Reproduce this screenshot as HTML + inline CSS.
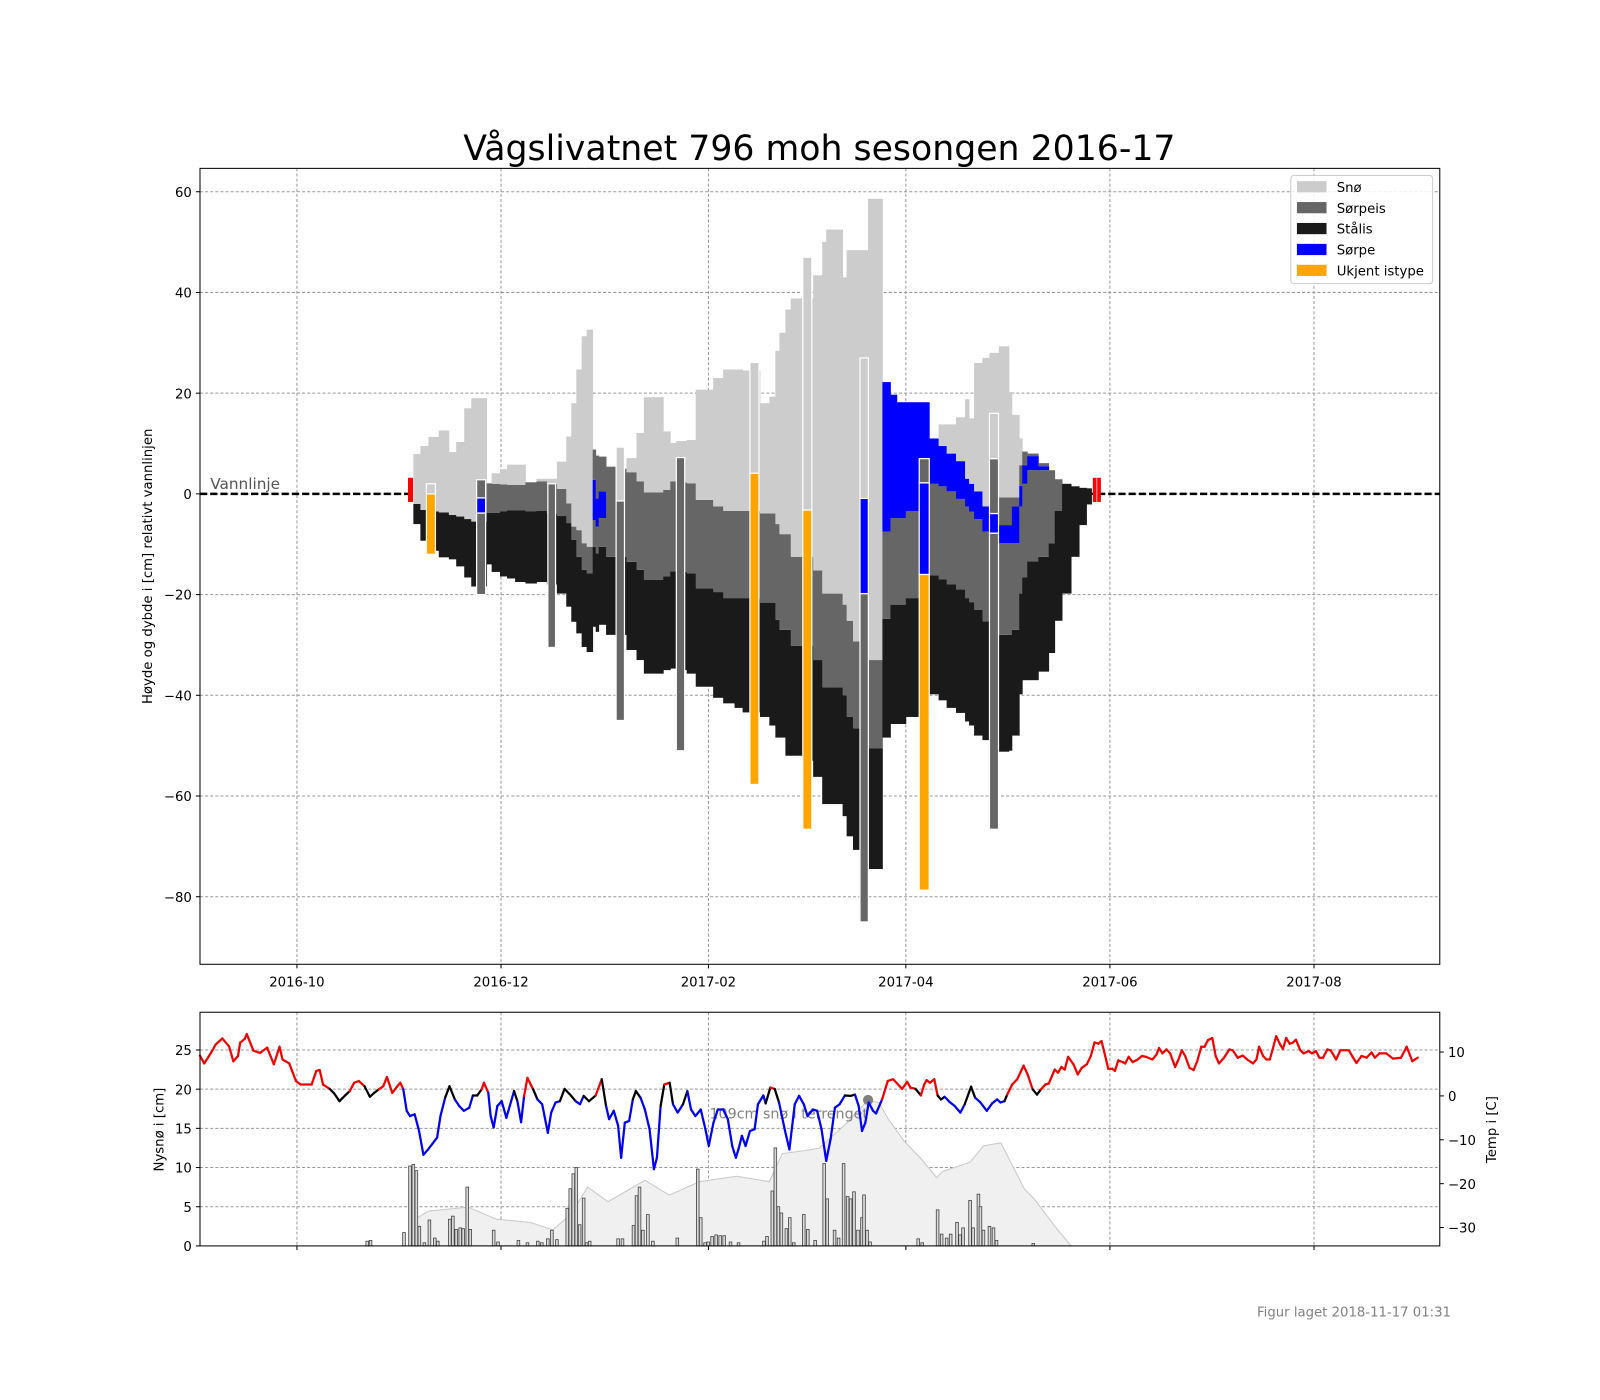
<!DOCTYPE html>
<html><head><meta charset="utf-8"><style>
html,body{margin:0;padding:0;background:#fff;}
svg{display:block;font-family:"DejaVu Sans","Liberation Sans",sans-serif;}
</style></head><body>
<svg id="fig" width="1600" height="1400" viewBox="0 0 1600 1400">
<rect x="0" y="0" width="1600" height="1400" fill="#fff"/>
<g transform="scale(1.0204)">
<text x="803" y="157" font-size="34" text-anchor="middle" fill="#000">Vågslivatnet 796 moh sesongen 2016-17</text>
<g id="topPlot"></g>
<g id="botPlot"></g>
<text x="1422" y="1290" font-size="13" text-anchor="end" fill="#808080">Figur laget 2018-11-17 01:31</text>
</g>
</svg>
<script>
// ---------- DATA ----------
// days since 2016-10-01
const xTickDays = [0, 61, 123, 182, 243, 304];
const xTickLabels = ["2016-10","2016-12","2017-02","2017-04","2017-06","2017-08"];
const yTicks = [60,40,20,0,-20,-40,-60,-80];
// ice columns: day, bottom, stålis top, sørpeis top, sørpe top, sørpeis2 top, snow top (cm)
const colDays = [34.8,36.9,39.3,42.4,45.4,47.6,50.0,52.1,56.7,58.2,60.7,62.8,65.2,68.3,71.6,74.7,77.7,80.5,82.0,83.5,85.1,86.6,88.4,89.3,90.2,92.4,95.4,98.5,101.5,103.7,109.5,111.6,113.4,116.5,119.2,124.4,127.4,130.8,133.2,138.4,141.2,143.0,144.2,146.0,147.6,151.2,154.3,157.0,158.2,163.1,164.3,166.2,168.3,170.7,175.0,177.4,179.3,182.0,186.0,189.0,191.8,194.2,197.0,199.7,200.9,202.4,204.9,207.0,209.8,212.8,213.7,215.9,216.8,218.3,221.6,224.7,226.5,228.7,231.4,233.8,236.0];
const colEnd = 237.5;
const bottomVals = [-6,-9.3,-11.3,-12.6,-13,-14.4,-16.6,-18.4,-14,-15.5,-16.4,-16.8,-17.5,-17.8,-17.5,-18,-19.8,-22.4,-25.4,-27.7,-30.4,-31.4,-26.4,-27.4,-26,-28,-28,-31,-33,-35.7,-35,-34.7,-35,-35.7,-38.3,-40.5,-41.6,-42.5,-43.4,-44.3,-46,-48.4,-48.4,-52,-52,-53,-56.2,-61.6,-61.6,-64,-68,-70.7,-70.7,-74.5,-48.4,-45.7,-45.7,-44.3,-44.3,-39.8,-41,-42.5,-43.5,-45.2,-46,-48,-48.9,-50,-51.2,-51,-48,-39.8,-37,-37,-35.3,-31.6,-25.2,-19.8,-12.5,-6.2,-2.1];
const stalisTop = [-2,-3.2,-3.5,-3.7,-4.2,-4.5,-5,-5.5,-3.8,-3.8,-3.5,-3.3,-3.3,-3.5,-3.4,-4,-4.4,-5.8,-9.1,-12.5,-15.1,-15.8,-10.5,-11.8,-10.5,-12.5,-12.5,-13.5,-15.1,-17.1,-16.4,-15.4,-15.5,-15.8,-18.8,-19.5,-20.7,-20.7,-20.7,-21.6,-21.6,-25,-27,-27,-30.2,-30.2,-33,-38.4,-38.4,-40,-44.3,-46.6,-46.6,-50.5,-24.8,-22,-22,-20.7,-20.7,-16.2,-17,-18,-19,-20.7,-21.5,-23,-25.3,-26,-28,-28,-27,-19.8,-16.6,-13.4,-12.5,-9.8,-3.4,2,1.5,1.2,1.1];
const sorpeisTop = [-2,-3.2,-3.5,-3.7,-4.2,-4.5,-5,-5.5,2.1,2,1.9,1.8,1.8,2.3,2.5,2,1,-1.9,-6.5,-7.2,-9.8,-10.5,-5.2,-6.5,-4.8,5.4,5,4.3,2.5,0.3,0.8,2.5,2.3,2.1,-1.2,-2.5,-3.4,-3.4,-3.4,-3.9,-3.9,-6,-8,-8,-12.5,-12.5,-15.2,-19.8,-19.8,-22,-25.2,-29.3,-29.3,-33,-7.5,-4.8,-4.8,-3.4,-3.4,2,1.5,0.5,-1,-2.5,-3.5,-5,-7.5,-8,-9.8,-9.8,-9.8,-2.5,2,4.7,4.7,4.7,2.9,2,1.5,1.2,1.1];
const sorpeTop = [-2,-3.2,-3.5,-3.7,-4.2,-4.5,-5,-5.5,2.1,2,1.9,1.8,1.8,2.3,2.5,2,1,-1.9,-6.5,-7.2,-9.8,-10.5,2.8,-0.9,0.5,5.4,5,4.3,2.5,0.3,0.8,2.5,2.3,2.1,-1.2,-2.5,-3.4,-3.4,-3.4,-3.9,-3.9,-6,-8,-8,-12.5,-12.5,-15.2,-19.8,-19.8,-22,-25.2,-29.3,-29.3,-33,22.2,19.7,18.2,18.2,18.2,11,9.5,8,6.5,3,2,0.5,-2.5,-3,-6.2,-6.2,-2.5,1.6,5.7,7.5,5.5,4.7,2.9,2,1.5,1.2,1.1];
const sorpeis2Top = [-2,-3.2,-3.5,-3.7,-4.2,-4.5,-5,-5.5,2.1,2,1.9,1.8,1.8,2.3,2.5,2,1,-1.9,-6.5,-7.2,-9.8,-10.5,8.8,7.6,7.4,5.4,5,4.3,2.5,0.3,0.8,2.5,2.3,2.1,-1.2,-2.5,-3.4,-3.4,-3.4,-3.9,-3.9,-6,-8,-8,-12.5,-12.5,-15.2,-19.8,-19.8,-22,-25.2,-29.3,-29.3,-33,22.2,19.7,18.2,18.2,18.2,11,9.5,8,6.5,3,2,0.5,-2.5,-3,-0.7,-0.7,-0.7,5.7,8.4,8,6.1,4.7,2.9,2,1.5,1.2,1.1];
const snowTop = [7.9,9.5,11.3,12.6,8.3,10.3,17,19,2.1,4.1,4.9,5.8,5.8,2.3,3,3,6.4,11.4,18,24.7,31.3,32.6,8.8,7.6,7.4,5.4,5,7.1,12.1,19.2,12.4,10.1,10.5,10.7,20.7,23,24.7,24.7,24.5,18,19.3,28.4,32,36.6,38.8,38.8,43.4,50,52.5,43,48.4,48.4,48.4,58.6,22.2,19.7,18.2,18.2,18.2,11,13.8,13.8,15.2,18.8,15,26,27,28,29.3,20.2,15.7,11,8.4,8,6.1,4.7,2.9,2,1.5,1.2,1.1];
// sample columns: day, width (days), layers [type, from, to]
const sampleDays = [33.2,38.7,53.7,75.0,95.4,113.4,135.4,151.2,168.3,186.0,207.0,237.9,239.2];
const sampleWidths = [1.5,2.7,2.7,2.3,2.5,2.5,2.7,2.7,2.5,3,2.7,1.1,1.1];
const sampleLayers = [
 [["red",-1.6,3.2]],
 [["orange",-12,0],["snow",0,2]],
 [["sorpeis",-20,-3.8],["sorpe",-3.8,-0.8],["sorpeis",-0.8,2.8]],
 [["sorpeis",-30.5,2]],
 [["sorpeis",-45,-1.4],["snow",-1.4,9.3]],
 [["sorpeis",-51,7.2]],
 [["orange",-57.7,4.1],["snow",4.1,26.1]],
 [["orange",-66.6,-3.2],["snow",-3.2,47]],
 [["sorpeis",-85,-19.8],["sorpe",-19.8,-0.9],["snow",-0.9,27]],
 [["orange",-78.7,-16],["sorpe",-16,2.2],["sorpeis",2.2,7]],
 [["sorpeis",-66.6,-7.8],["sorpe",-7.8,-3.9],["sorpeis",-3.9,7],["snow",7,16]],
 [["red",-1.6,3.2]],
 [["red",-1.6,3.2]]
];
// weather
const tempDays = [-29.0,-27.7,-25.7,-24.3,-22.3,-20.3,-19.0,-17.6,-17.0,-15.6,-15.0,-13.0,-11.0,-8.9,-6.9,-5.2,-4.3,-2.3,-0.3,1.1,4.4,5.8,6.8,7.8,9.8,11.1,12.7,14.4,15.8,17.1,18.5,20.2,21.8,23.1,24.5,25.8,26.9,28.5,29.8,30.9,31.8,32.8,33.8,35.2,36.5,37.8,39.2,41.9,42.9,44.3,45.6,47.2,48.5,49.9,51.5,52.6,53.9,55.2,55.9,57.2,57.9,58.8,59.9,61.2,62.6,63.2,64.9,65.9,67.0,67.9,68.9,70.6,71.9,73.3,75.0,76.0,77.3,78.6,80.0,82.0,83.3,84.6,85.7,87.3,89.3,91.1,92.4,93.3,94.7,96.0,96.9,98.0,99.3,100.4,101.3,102.7,104.0,105.4,106.7,107.6,108.7,109.8,111.4,112.4,113.8,115.4,116.7,117.8,119.1,120.7,122.1,123.1,124.5,125.8,127.4,128.8,130.1,131.2,132.1,133.0,134.1,135.4,136.8,137.8,139.4,140.1,141.5,142.8,144.1,145.9,147.2,148.8,150.1,151.5,152.6,154.2,155.5,156.8,158.2,159.5,160.8,162.2,163.8,165.5,166.8,167.9,168.9,169.9,170.9,172.2,173.1,174.9,176.6,178.2,180.9,182.4,183.4,184.9,186.5,187.5,188.2,189.2,190.5,191.5,192.5,193.6,195.1,196.6,198.3,199.6,201.5,202.7,204.2,206.2,207.8,209.3,210.3,211.5,212.3,213.8,215.3,217.2,218.4,219.9,221.2,222.4,223.7,224.7,226.5,227.5,228.5,229.5,230.5,232.1,233.4,234.6,236.1,237.3,238.4,239.5,240.5,241.5,242.5,243.7,244.5,245.5,246.8,247.6,248.6,249.8,251.3,252.6,253.8,255.7,256.9,257.7,258.7,259.9,261.0,262.5,263.5,264.5,265.5,266.8,268.0,269.1,270.3,271.3,272.3,273.6,274.6,275.6,277.1,278.7,279.7,281.2,282.7,284.2,285.8,286.8,287.6,288.8,289.8,290.8,292.7,293.9,294.7,295.7,296.7,297.6,298.6,299.9,300.9,302.4,303.4,304.6,305.6,306.7,308.0,309.0,310.6,311.9,314.4,315.4,316.7,318.2,319.7,321.2,322.2,323.6,325.6,327.6,330.0,331.7,333.4,335.0];
const tempVals = [9.2,7.4,9.8,11.7,13.1,11.3,7.9,9.1,12.1,13.0,14.1,10.3,9.8,11.0,7.2,11.2,8.3,7.4,3.4,2.6,2.6,5.7,5.9,2.6,1.6,0.6,-1.2,0.1,1.1,3.0,3.4,2.2,-0.2,0.7,1.5,2.2,4.3,0.7,2.0,3.0,1.5,-3.4,-4.6,-4.2,-8.0,-13.4,-12.2,-9.5,-4.6,-0.4,2.2,-0.8,-2.3,-3.4,-2.7,0.1,0.1,1.5,3.0,0.7,-4.6,-7.2,-2.3,-1.2,-5.0,-3.4,1.1,-1.2,-6.0,0.0,4.1,1.5,-0.8,-1.9,-8.4,-3.8,-1.5,-1.2,1.6,0.0,-1.2,-1.9,0.0,-1.2,0.1,3.8,-2.3,-5.3,-3.4,-6.8,-14.1,-6.1,-5.7,-0.8,1.1,-0.4,-3.1,-7.6,-16.7,-14.1,-2.3,2.6,3.0,-1.9,-3.8,-1.9,1.1,-3.1,-4.6,-3.1,-7.6,-11.4,-6.1,-3.1,-3.1,-5.3,-11.4,-14.1,-11.8,-9.1,-11.4,-8.0,-7.6,-1.9,0.1,-1.7,1.9,1.6,-1.5,-8.0,-12.2,-1.9,0.0,-1.9,-4.6,-3.1,-3.4,-7.6,-14.8,-9.9,-2.7,-1.9,0.1,0.0,0.3,-2.3,-8.0,-6.1,-1.5,-3.4,-4.0,-0.8,3.4,3.8,1.6,3.2,1.9,1.6,0.1,2.6,3.6,3.0,3.8,0.1,-0.8,-0.2,-1.4,-2.3,-3.8,-1.9,2.1,-0.4,-1.4,-3.4,-1.7,-0.8,-1.5,-1.2,0.3,2.6,3.8,6.9,4.9,1.5,0.3,1.5,2.6,2.8,6.0,5.3,6.6,6.0,8.9,7.2,4.9,6.4,7.2,9.1,12.2,11.9,12.5,9.4,6.2,6.2,5.7,8.1,7.7,7.4,8.9,7.7,8.3,9.1,8.9,8.3,9.4,10.9,9.7,10.6,9.7,6.6,8.3,10.4,9.1,6.4,5.9,7.9,11.2,11.2,12.7,13.2,9.1,7.4,8.7,10.6,10.4,8.7,9.2,8.2,7.4,8.3,11.2,9.1,8.3,8.3,13.6,11.7,10.7,13.2,11.9,12.1,12.8,10.4,9.7,10.2,9.7,10.2,8.7,8.7,10.6,10.4,8.3,10.4,10.4,9.1,7.5,9.1,8.7,9.9,8.7,9.7,9.7,8.5,8.7,11.2,7.9,8.7];
const depthDays = [34.8,36,39.3,51.2,59.5,69.8,76.5,82,86.9,93,104,111.3,120.4,131.4,141.2,145.1,151.2,156.1,164,170.7,174,176.8,181.4,186.6,191.2,193,201.2,205.2,210.4,217.4,220.4,227.4,231.4];
const depthVals = [0,21,26,29,20,17.5,12,24,44,33,49,38,48,52,48,69,71,73,91,109,107,94.5,78.5,65,51,55.6,62.5,74.7,77,42.7,35,12,0];
const snowfallDays = [21.0,22.0,32.0,33.8,34.8,35.7,36.6,38.1,39.6,41.2,42.1,45.7,46.6,47.6,48.8,49.7,50.9,51.8,58.8,60.1,66.2,68.9,72.0,73.2,75.0,76.2,77.7,80.8,81.7,82.6,83.5,84.5,85.7,86.6,87.5,96.0,97.3,100.6,101.5,102.4,103.4,104.9,106.4,113.7,119.8,120.7,122.0,122.9,124.1,125.3,126.5,127.7,129.6,132.0,139.6,140.5,142.1,143.0,143.9,144.8,146.3,147.3,148.5,151.5,152.7,154.9,157.6,158.5,160.7,161.9,163.4,164.6,165.5,166.5,167.7,168.9,169.5,170.4,171.3,185.7,186.9,191.5,192.7,194.2,195.4,197.3,198.2,199.1,201.2,202.1,203.7,204.3,205.2,207.0,208.2,209.1,220.1];
const snowfallVals = [0.6,0.7,1.7,10.2,10.4,9.6,2.5,0.4,3.3,1.0,0.6,3.4,3.8,2.1,2.3,2.2,7.5,2.1,2.0,0.5,0.7,0.4,0.6,0.4,0.9,2.0,0.8,4.8,7.3,9.2,10.0,2.7,6.1,0.4,0.6,0.9,0.9,2.6,6.4,7.5,2.0,4.0,0.6,1.0,9.8,3.6,0.4,0.5,1.2,1.4,1.3,1.3,0.5,0.4,0.6,1.2,7.0,12.5,5.0,4.2,2.2,3.6,0.4,4.0,2.1,0.7,10.5,6.0,2.0,1.0,10.5,6.3,6.0,6.9,2.0,3.6,6.5,2.0,0.5,0.9,0.4,4.6,1.5,1.0,1.5,3.0,1.4,2.3,5.8,2.3,6.6,5.0,2.0,2.5,2.3,0.7,0.3];
const leftTicks = [0,5,10,15,20,25];
const rightTicks = [10,0,-10,-20,-30];

// ---------- SCALES ----------
const NS = "http://www.w3.org/2000/svg";
const X = d => 291 + d * 3.2787;
const Y = cm => 484 - cm * 4.935;
const YL = v => 1221 - v * 7.68;
const YR = t => 1074 - t * 4.3;
const YD = cm => 1221 - cm * 1.312;
const COLORS = {snow:"#cccccc", sorpeis:"#666666", stalis:"#1a1a1a", sorpe:"#0000ff", orange:"#ffa500", red:"#ff0000"};
function mk(tag, attrs, parent){ const e=document.createElementNS(NS,tag); for(const k in attrs) e.setAttribute(k,attrs[k]); parent.appendChild(e); return e; }

const gTop = document.getElementById('topPlot');
const gBot = document.getElementById('botPlot');
const L=196,R=1411,T1=165,B1=945,T2=992,B2=1221;

// top grid
const gridTop = mk('g',{},gTop);


xTickDays.forEach(d=>{ mk('line',{x1:X(d),x2:X(d),y1:T1,y2:B1,stroke:"#999",'stroke-width':1,'stroke-dasharray':"3,2"},gridTop); });
yTicks.forEach(v=>{ mk('line',{x1:L,x2:R,y1:Y(v),y2:Y(v),stroke:"#999",'stroke-width':1,'stroke-dasharray':"3,2"},gridTop); });

// waterline
const wl = mk('line',{x1:L,x2:R,y1:Y(0),y2:Y(0),stroke:"#000",'stroke-width':2.5,'stroke-dasharray':"7,3"},gTop);


const wlt = mk('text',{x:206,y:479,'font-size':15,fill:"#555"},gTop);
wlt.textContent="Vannlinje";



// ice columns
const layerSets = [["stalis",bottomVals,stalisTop],["sorpeis",stalisTop,sorpeisTop],["sorpe",sorpeisTop,sorpeTop],["sorpeis",sorpeTop,sorpeis2Top],["snow",sorpeis2Top,snowTop]];
const colG = mk('g',{},gTop);


colDays.forEach((d,i)=>{
  const d2 = i<colDays.length-1 ? colDays[i+1] : colEnd;
  const x1=X(d), x2=X(d2);
  layerSets.forEach(([type,lo,hi])=>{
    const a=lo[i], b=hi[i];
    if (b-a <= 0.01) return;
    const r = mk('rect',{x:x1,y:Y(b),width:x2-x1+0.4,height:Y(a)-Y(b),fill:COLORS[type]},colG);
    
    
  });
});
// samples
const smpG = mk('g',{},gTop);


sampleDays.forEach((d,i)=>{
  const x1=X(d), w=sampleWidths[i]*3.2787;
  sampleLayers[i].forEach(([type,a,b])=>{
    const r = mk('rect',{x:x1,y:Y(b),width:w,height:Y(a)-Y(b),fill:COLORS[type],stroke:type==="red"?"none":"#fff",'stroke-width':1.2},smpG);
    
    
  });
});

// top frame & ticks
const fr1 = mk('rect',{x:L,y:T1,width:R-L,height:B1-T1,fill:"none",stroke:"#000",'stroke-width':1},gTop);


xTickDays.forEach((d,i)=>{
  mk('line',{x1:X(d),x2:X(d),y1:B1,y2:B1+4,stroke:"#000"},gTop);
  const t=mk('text',{x:X(d),y:B1+22,'font-size':13,'text-anchor':"middle"},gTop);
  t.textContent=xTickLabels[i];
  
  
});
yTicks.forEach(v=>{
  mk('line',{x1:L-4,x2:L,y1:Y(v),y2:Y(v),stroke:"#000"},gTop);
  const t=mk('text',{x:L-8,y:Y(v)+5,'font-size':13,'text-anchor':"end"},gTop);
  t.textContent=(v<0?"\u2212"+(-v):String(v));
  
  
});
const yl = mk('text',{x:0,y:0,'font-size':13,'text-anchor':"middle",transform:"translate(149,555) rotate(-90)"},gTop);
yl.textContent="Høyde og dybde i [cm] relativt vannlinjen";



// legend
const lg = mk('g',{},gTop);


mk('rect',{x:1265,y:172,width:139,height:106,rx:3,fill:"#fff",'fill-opacity':0.85,stroke:"#ccc"},lg);
const legNames=["Snø","Sørpeis","Stålis","Sørpe","Ukjent istype"];
const legCols=["snow","sorpeis","stalis","sorpe","orange"];
legNames.forEach((n,i)=>{
  const yy=183+i*20.5;
  const p=mk('rect',{x:1271,y:yy-5.5,width:29,height:11,fill:COLORS[legCols[i]]},lg);
  
  
  const t=mk('text',{x:1310,y:yy+5,'font-size':13},lg);
  t.textContent=n;
  
  
});

// ---------- bottom ----------
const gridBot = mk('g',{},gBot);


xTickDays.forEach(d=>{ mk('line',{x1:X(d),x2:X(d),y1:T2,y2:B2,stroke:"#999",'stroke-width':1,'stroke-dasharray':"3,2"},gridBot); });
leftTicks.forEach(v=>{ if(v>0) mk('line',{x1:L,x2:R,y1:YL(v),y2:YL(v),stroke:"#999",'stroke-width':1,'stroke-dasharray':"3,2"},gridBot); });

// snow depth area
let pts = depthDays.map((d,i)=>X(d)+","+YD(depthVals[i])).join(" ");
const area = mk('polygon',{points:X(depthDays[0])+","+B2+" "+pts+" "+X(depthDays[depthDays.length-1])+","+B2,fill:"#f0f0f0",stroke:"#c8c8c8",'stroke-width':1},gBot);


let mi=0; depthVals.forEach((v,i)=>{ if(v>depthVals[mi]) mi=i; });
const dot = mk('circle',{cx:X(depthDays[mi]),cy:YD(depthVals[mi]),r:5,fill:"#808080"},gBot);


const dtx = mk('text',{x:X(depthDays[mi]),y:YD(depthVals[mi])+18,'font-size':14,'text-anchor':"end",fill:"#808080"},gBot);
dtx.textContent=Math.round(depthVals[mi])+"cm snø i terrenget";



// snowfall bars
snowfallDays.forEach((d,i)=>{
  const b=mk('rect',{x:X(d)-1.3,y:YL(snowfallVals[i]),width:2.6,height:B2-YL(snowfallVals[i]),fill:"#d9d9d9",stroke:"#444",'stroke-width':0.8},gBot);
  
  
});

// temperature line
for(let i=0;i<tempDays.length-1;i++){
  const m=(tempVals[i]+tempVals[i+1])/2;
  const c = m>1.2 ? "#ee0000" : (m< -0.6 ? "#0000ee" : "#000");
  const s=mk('line',{x1:X(tempDays[i]),y1:YR(tempVals[i]),x2:X(tempDays[i+1]),y2:YR(tempVals[i+1]),stroke:c,'stroke-width':2.2,'stroke-linecap':"round"},gBot);
  
  
}

const fr2 = mk('rect',{x:L,y:T2,width:R-L,height:B2-T2,fill:"none",stroke:"#000",'stroke-width':1},gBot);


xTickDays.forEach(d=>{ mk('line',{x1:X(d),x2:X(d),y1:B2,y2:B2+4,stroke:"#000"},gBot); });
leftTicks.forEach(v=>{
  mk('line',{x1:L-4,x2:L,y1:YL(v),y2:YL(v),stroke:"#000"},gBot);
  const t=mk('text',{x:L-8,y:YL(v)+5,'font-size':13,'text-anchor':"end"},gBot);
  t.textContent=String(v);
  
  
});
rightTicks.forEach(v=>{
  mk('line',{x1:R,x2:R+4,y1:YR(v),y2:YR(v),stroke:"#000"},gBot);
  const t=mk('text',{x:R+8,y:YR(v)+5,'font-size':13,'text-anchor':"start"},gBot);
  t.textContent=(v<0?"\u2212"+(-v):String(v));
  
  
});
const yl2 = mk('text',{x:0,y:0,'font-size':13,'text-anchor':"middle",transform:"translate(160,1107) rotate(-90)"},gBot);
yl2.textContent="Nysnø i [cm]";


const yr2 = mk('text',{x:0,y:0,'font-size':13,'text-anchor':"middle",transform:"translate(1466,1107) rotate(-90)"},gBot);
yr2.textContent="Temp i [C]";


</script>
</body></html>
